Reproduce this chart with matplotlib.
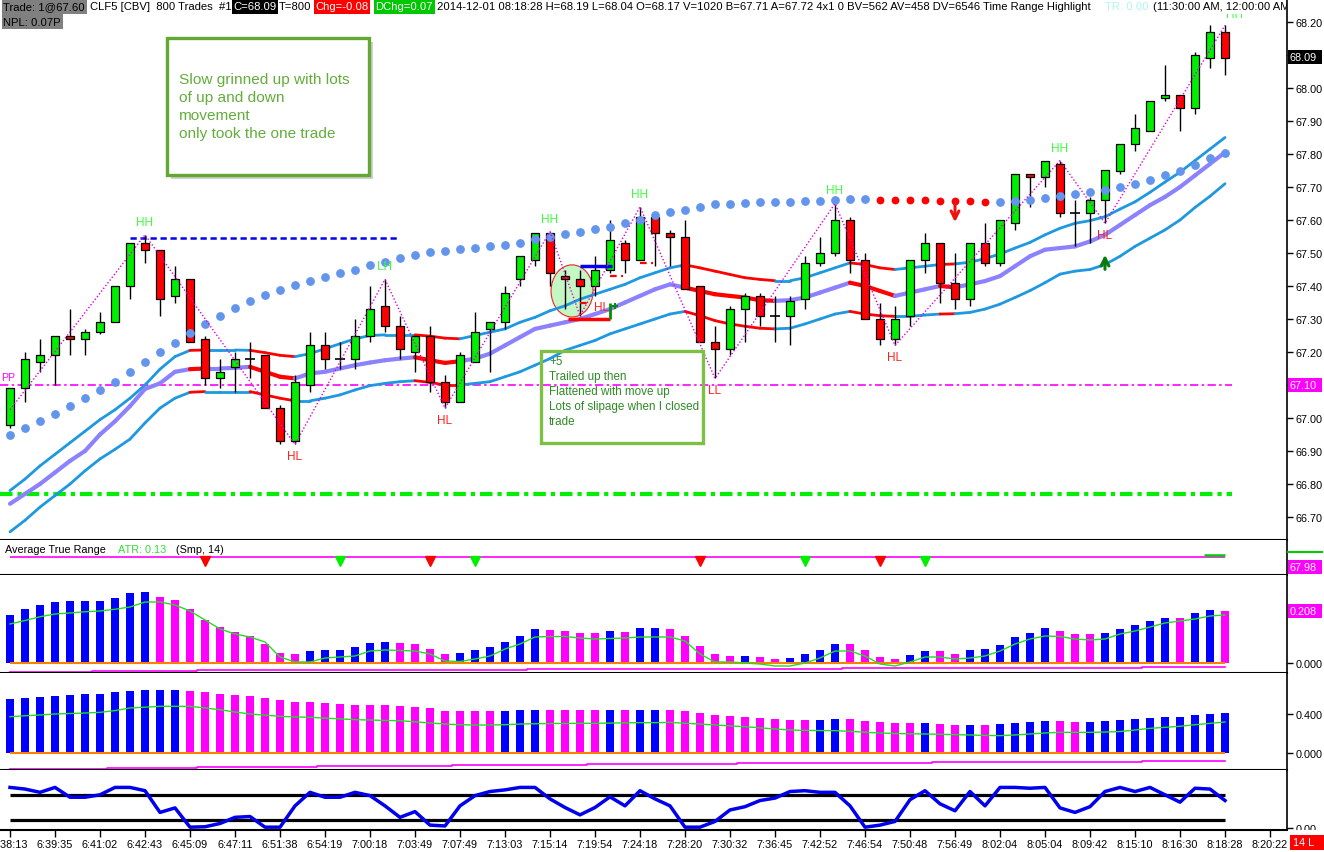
import matplotlib
matplotlib.use("Agg")
import matplotlib.pyplot as plt
from matplotlib import font_manager as fm
from matplotlib.patches import Rectangle, Ellipse
from matplotlib.collections import LineCollection
from matplotlib.transforms import Bbox, TransformedBbox

# ---------------------------------------------------------------- data
opens = [66.98, 67.09, 67.17, 67.19, 67.25, 67.24, 67.26, 67.29, 67.40, 67.53,
         67.51, 67.37, 67.42, 67.24, 67.12, 67.155, 67.18, 67.19, 67.03, 66.93,
         67.10, 67.22, 67.18, 67.18, 67.25, 67.34, 67.28, 67.20, 67.25, 67.11,
         67.05, 67.17, 67.27, 67.29, 67.42, 67.48, 67.56, 67.43, 67.42, 67.40,
         67.45, 67.53, 67.48, 67.61, 67.56, 67.55, 67.40, 67.23, 67.21, 67.33,
         67.37, 67.31, 67.31, 67.36, 67.47, 67.50, 67.60, 67.48, 67.30, 67.24,
         67.31, 67.48, 67.53, 67.41, 67.36, 67.53, 67.47, 67.59, 67.74, 67.73,
         67.77, 67.62, 67.62, 67.66, 67.75, 67.83, 67.87, 67.97, 67.98, 67.94,
         68.09, 68.17]
highs = [67.09, 67.20, 67.24, 67.25, 67.33, 67.27, 67.32, 67.40, 67.53, 67.555,
         67.51, 67.46, 67.42, 67.25, 67.18, 67.20, 67.23, 67.19, 67.04, 67.13,
         67.26, 67.26, 67.23, 67.30, 67.40, 67.42, 67.31, 67.25, 67.28, 67.13,
         67.20, 67.32, 67.29, 67.40, 67.49, 67.56, 67.565, 67.45, 67.45, 67.49,
         67.60, 67.54, 67.64, 67.62, 67.57, 67.60, 67.40, 67.28, 67.34, 67.38,
         67.38, 67.37, 67.37, 67.49, 67.55, 67.65, 67.61, 67.50, 67.35, 67.34,
         67.48, 67.56, 67.53, 67.50, 67.53, 67.59, 67.60, 67.74, 67.74, 67.78,
         67.78, 67.66, 67.67, 67.75, 67.83, 67.92, 67.96, 68.07, 67.98, 68.11,
         68.19, 68.19]
lows = [66.97, 67.05, 67.14, 67.10, 67.19, 67.19, 67.255, 67.29, 67.36, 67.47,
        67.31, 67.35, 67.23, 67.10, 67.09, 67.08, 67.12, 67.03, 66.92, 66.92,
        67.08, 67.15, 67.15, 67.15, 67.23, 67.26, 67.18, 67.14, 67.08, 67.03,
        67.05, 67.17, 67.14, 67.27, 67.40, 67.46, 67.40, 67.33, 67.31, 67.37,
        67.44, 67.44, 67.48, 67.46, 67.46, 67.39, 67.23, 67.12, 67.19, 67.23,
        67.28, 67.23, 67.22, 67.33, 67.46, 67.49, 67.44, 67.30, 67.22, 67.22,
        67.28, 67.44, 67.35, 67.33, 67.34, 67.46, 67.46, 67.57, 67.64, 67.70,
        67.61, 67.52, 67.53, 67.59, 67.74, 67.81, 67.87, 67.96, 67.87, 67.92,
        68.06, 68.04]
closes = [67.09, 67.18, 67.19, 67.25, 67.24, 67.26, 67.29, 67.40, 67.53, 67.51,
          67.36, 67.42, 67.23, 67.12, 67.14, 67.18, 67.18, 67.03, 66.93, 67.11,
          67.22, 67.18, 67.18, 67.25, 67.33, 67.28, 67.21, 67.25, 67.11, 67.05,
          67.19, 67.26, 67.29, 67.38, 67.49, 67.56, 67.44, 67.42, 67.40, 67.45,
          67.54, 67.48, 67.61, 67.56, 67.55, 67.39, 67.23, 67.21, 67.33, 67.37,
          67.31, 67.31, 67.355, 67.47, 67.50, 67.60, 67.48, 67.30, 67.24, 67.30,
          67.48, 67.53, 67.41, 67.36, 67.53, 67.47, 67.60, 67.74, 67.73, 67.78,
          67.62, 67.62, 67.66, 67.75, 67.83, 67.88, 67.96, 67.98, 67.94, 68.10,
          68.17, 68.09]

upper_band = [66.78, 66.815, 66.855, 66.89, 66.925, 66.96, 66.995, 67.025, 67.06, 67.10,
              67.148, 67.186, 67.205, 67.206, 67.206, 67.206, 67.205, 67.198, 67.19, 67.186,
              67.195, 67.21, 67.225, 67.24, 67.25, 67.252, 67.252, 67.252, 67.248, 67.242,
              67.24, 67.25, 67.26, 67.27, 67.29, 67.305, 67.325, 67.34, 67.36, 67.375,
              67.39, 67.405, 67.425, 67.44, 67.455, 67.464, 67.455, 67.445, 67.435, 67.425,
              67.42, 67.416, 67.416, 67.425, 67.44, 67.455, 67.47, 67.465, 67.455, 67.45,
              67.455, 67.46, 67.465, 67.467, 67.472, 67.483, 67.497, 67.515, 67.532, 67.555,
              67.575, 67.59, 67.598, 67.61, 67.633, 67.655, 67.684, 67.715, 67.745, 67.78,
              67.815, 67.85]
mid_band = [66.74, 66.77, 66.80, 66.835, 66.87, 66.90, 66.95, 66.99, 67.036, 67.088,
            67.105, 67.14, 67.148, 67.15, 67.15, 67.152, 67.155, 67.14, 67.125, 67.12,
            67.135, 67.14, 67.15, 67.16, 67.168, 67.175, 67.18, 67.184, 67.175, 67.167,
            67.172, 67.18, 67.195, 67.22, 67.245, 67.27, 67.28, 67.29, 67.30, 67.315,
            67.33, 67.35, 67.37, 67.39, 67.405, 67.395, 67.385, 67.375, 67.37, 67.365,
            67.357, 67.355, 67.357, 67.365, 67.38, 67.395, 67.41, 67.40, 67.385, 67.37,
            67.38, 67.39, 67.40, 67.396, 67.405, 67.415, 67.43, 67.46, 67.49, 67.51,
            67.515, 67.52, 67.535, 67.555, 67.585, 67.615, 67.645, 67.67, 67.70, 67.735,
            67.77, 67.805]
lower_band = [66.655, 66.69, 66.73, 66.765, 66.80, 66.84, 66.876, 66.905, 66.936, 66.985,
              67.03, 67.06, 67.078, 67.08, 67.08, 67.08, 67.08, 67.07, 67.06, 67.052,
              67.052, 67.06, 67.07, 67.085, 67.098, 67.105, 67.11, 67.113, 67.108, 67.10,
              67.10, 67.105, 67.11, 67.125, 67.14, 67.16, 67.18, 67.205, 67.22, 67.235,
              67.255, 67.27, 67.285, 67.30, 67.315, 67.323, 67.31, 67.295, 67.285, 67.278,
              67.272, 67.27, 67.272, 67.285, 67.30, 67.315, 67.323, 67.315, 67.31, 67.308,
              67.308, 67.312, 67.315, 67.316, 67.32, 67.33, 67.345, 67.365, 67.386, 67.41,
              67.436, 67.445, 67.45, 67.465, 67.49, 67.52, 67.545, 67.57, 67.60, 67.638,
              67.672, 67.71]
band_red_spans = [(12, 13), (16, 19), (27, 30), (45, 51), (56, 59), (62, 63)]

sar = [66.95, 66.97, 66.99, 67.012, 67.037, 67.06, 67.086, 67.11, 67.14, 67.17,
       67.20, 67.227, 67.258, 67.285, 67.31, 67.334, 67.355, 67.373, 67.389, 67.403,
       67.416, 67.428, 67.44, 67.45, 67.464, 67.474, 67.484, 67.494, 67.502, 67.507,
       67.511, 67.515, 67.52, 67.524, 67.53, 67.542, 67.55, 67.558, 67.565, 67.573,
       67.58, 67.59, 67.60, 67.615, 67.623, 67.63, 67.64, 67.648, 67.65, 67.653,
       67.655, 67.655, 67.656, 67.657, 67.658, 67.66, 67.664, 67.664, 67.66, 67.66,
       67.66, 67.66, 67.658, 67.658, 67.658, 67.655, 67.655, 67.658, 67.662, 67.667,
       67.674, 67.68, 67.686, 67.692, 67.70, 67.71, 67.72, 67.737, 67.748, 67.767,
       67.787, 67.803]
sar_red_bars = [58, 59, 60, 61, 62, 63, 64, 65]

pivot_price = 67.10
support_price = 66.77
resistance_price = 67.545
resistance_span = (8, 26)

zigzag_idx = [0, 9, 19, 25, 29, 36, 38, 42, 47, 55, 59, 70, 73, 81]
zigzag_start = 67.025

swing_idx = [9, 19, 25, 29, 36, 38, 42, 47, 55, 59, 70, 73, 81]
swing_txt = ['HH', 'HL', 'LH', 'HL', 'HH', 'HL', 'HH', 'LL', 'HH', 'HL', 'HH', 'HL', 'HH']
swing_kind = ['H', 'L', 'H', 'L', 'H', 'L', 'H', 'L', 'H', 'L', 'H', 'L', 'H']

signal_down = (63, 67.665, 67.585)
signal_up = (73, 67.442, 67.503)

trade_entry_price = 67.46
trade_stop_price = 67.30
trade_exit_top = 67.35
trade_ticks = [(38.0, 38.7, 67.35), (40.0, 40.9, 67.43), (42.0, 42.85, 67.47)]
trade_circle = (37.47, 67.385, 2.8, 0.158)

atr_mark_idx = [13, 22, 28, 31, 46, 53, 58, 61]
atr_mark_col = ['r', 'g', 'r', 'g', 'r', 'g', 'r', 'g']

hist1 = [0.192, 0.216, 0.232, 0.244, 0.248, 0.248, 0.248, 0.26, 0.28, 0.284,
         0.265, 0.252, 0.216, 0.172, 0.144, 0.124, 0.108, 0.076, 0.04, 0.036,
         0.048, 0.052, 0.052, 0.064, 0.08, 0.084, 0.08, 0.076, 0.056, 0.036,
         0.04, 0.052, 0.064, 0.084, 0.108, 0.136, 0.132, 0.128, 0.12, 0.12,
         0.128, 0.124, 0.14, 0.14, 0.136, 0.108, 0.068, 0.036, 0.028, 0.028,
         0.024, 0.016, 0.02, 0.036, 0.052, 0.076, 0.076, 0.052, 0.024, 0.016,
         0.032, 0.048, 0.048, 0.036, 0.052, 0.056, 0.072, 0.104, 0.12, 0.14,
         0.128, 0.116, 0.116, 0.12, 0.136, 0.152, 0.168, 0.18, 0.18, 0.2,
         0.214, 0.208]
hist1_col = ("bbbbbbbbbb" "mmmmmmmmmm" "bbbbbb" "mmmm" "bbbbbb" "mmmm" "bmbb"
             "mmmmm" "bmm" "bbbb" "mmmm" "bbmm" "bbbbbb" "mmm" "bbbbb" "mbbm")
hist1_ma = [0.156, 0.17, 0.185, 0.196, 0.20, 0.205, 0.208, 0.215, 0.224, 0.244,
            0.244, 0.232, 0.208, 0.172, 0.136, 0.116, 0.104, 0.084, 0.024, 0.004,
            0.004, 0.02, 0.024, 0.028, 0.048, 0.052, 0.05, 0.048, 0.036, 0.008,
            0.006, 0.016, 0.028, 0.056, 0.076, 0.104, 0.106, 0.106, 0.10, 0.096,
            0.098, 0.10, 0.104, 0.104, 0.104, 0.088, 0.036, 0.004, 0.004, 0.0,
            -0.004, -0.012, -0.012, 0.0, 0.02, 0.048, 0.048, 0.028, -0.004, -0.012,
            0.004, 0.024, 0.024, 0.016, 0.02, 0.028, 0.048, 0.076, 0.096, 0.108,
            0.106, 0.096, 0.092, 0.096, 0.116, 0.128, 0.144, 0.16, 0.168, 0.176,
            0.188, 0.192]
hist1_floor = ([-0.035] * 6 + [-0.032] * 7 + [-0.028] * 22 + [-0.024] * 21
               + [-0.020] * 20 + [-0.016] * 6)

hist2 = [0.554, 0.564, 0.574, 0.585, 0.595, 0.605, 0.605, 0.626, 0.636, 0.646,
         0.646, 0.646, 0.636, 0.626, 0.605, 0.595, 0.585, 0.564, 0.544, 0.523,
         0.523, 0.513, 0.503, 0.492, 0.492, 0.492, 0.482, 0.472, 0.462, 0.431,
         0.431, 0.431, 0.431, 0.431, 0.441, 0.441, 0.441, 0.441, 0.441, 0.441,
         0.441, 0.441, 0.441, 0.441, 0.441, 0.431, 0.41, 0.39, 0.38, 0.369,
         0.359, 0.349, 0.338, 0.338, 0.338, 0.349, 0.349, 0.328, 0.318, 0.308,
         0.308, 0.308, 0.297, 0.287, 0.287, 0.287, 0.297, 0.308, 0.318, 0.328,
         0.328, 0.318, 0.318, 0.328, 0.338, 0.349, 0.359, 0.369, 0.369, 0.39,
         0.40, 0.41]
hist2_col = ("bbbbbbbbbbbb" "mmmmmmmmmmmmmmmmmmmmm" "bbb" "mmmm" "bmbb"
             "mmmmmmmmmm" "bb" "mmmmm" "bmmbm" "bbbb" "mm" "bbbbbbbbbb")
hist2_ma = [0.372, 0.382, 0.39, 0.40, 0.405, 0.41, 0.417, 0.435, 0.462, 0.47,
            0.479, 0.479, 0.479, 0.462, 0.444, 0.42, 0.40, 0.388, 0.376, 0.37,
            0.366, 0.358, 0.35, 0.342, 0.338, 0.334, 0.331, 0.32, 0.308, 0.297,
            0.29, 0.287, 0.287, 0.29, 0.297, 0.30, 0.302, 0.303, 0.304, 0.305,
            0.307, 0.309, 0.311, 0.311, 0.314, 0.305, 0.297, 0.287, 0.278, 0.27,
            0.258, 0.246, 0.236, 0.232, 0.23, 0.229, 0.222, 0.213, 0.205, 0.2,
            0.197, 0.195, 0.192, 0.188, 0.185, 0.18, 0.178, 0.185, 0.195, 0.205,
            0.212, 0.212, 0.212, 0.215, 0.22, 0.236, 0.253, 0.263, 0.274, 0.29,
            0.304, 0.318]
hist2_floor = ([-0.164] * 7 + [-0.157] * 6 + [-0.147] * 8 + [-0.137] * 9 + [-0.127] * 9
               + [-0.116] * 10 + [-0.106] * 13 + [-0.096] * 14 + [-0.085] * 6)

osc = [99, 95, 87, 99, 75, 75, 81, 99, 99, 91,
       38, 49, 2, 3, 11, 26, 28, 2, 2, 54,
       87, 75, 75, 87, 79, 54, 26, 40, 7, 5,
       54, 79, 89, 93, 99, 99, 71, 50, 32, 50,
       76, 54, 91, 71, 54, 2, 2, 16, 44, 52,
       67, 73, 89, 91, 87, 87, 54, 2, 7, 16,
       69, 91, 59, 42, 89, 54, 99, 99, 97, 99,
       49, 38, 52, 89, 99, 89, 99, 81, 63, 97,
       95, 67]
osc_hi, osc_lo = 80, 20

time_labels = ['6:38:13', '6:39:35', '6:41:02', '6:42:43', '6:45:09', '6:47:11', '6:51:38',
               '6:54:19', '7:00:18', '7:03:49', '7:07:49', '7:13:03', '7:15:14', '7:19:54',
               '7:24:18', '7:28:20', '7:30:32', '7:36:45', '7:42:52', '7:46:54', '7:50:48',
               '7:56:49', '8:02:04', '8:05:04', '8:09:42', '8:15:10', '8:16:30', '8:18:28',
               '8:20:22']
price_ticks = [66.70, 66.80, 66.90, 67.00, 67.10, 67.20, 67.30, 67.40, 67.50,
               67.60, 67.70, 67.80, 67.90, 68.00, 68.10, 68.20]
boxed_prices = [68.09, 67.10]

# ---------------------------------------------------------------- setup
W, H = 1324, 853
names = {f.name for f in fm.fontManager.ttflist}
NF = 'Liberation Sans Narrow' if 'Liberation Sans Narrow' in names else 'Liberation Sans'
plt.rcParams['font.family'] = [NF, 'DejaVu Sans']

fig = plt.figure(figsize=(W / 100, H / 100), dpi=100)
fig.patch.set_facecolor('white')
R = fig.canvas.get_renderer()


def text_w(s, size):
    t = fig.text(0, 0, s, fontsize=size)
    w = t.get_window_extent(R).width
    t.remove()
    return w


def fit(s, width):
    return 10 * width / text_w(s, 10)


def fx(x):
    return x / W


def fy(y):
    return 1 - y / H


def frect(x0, y0, x1, y1, **kw):
    r = Rectangle((fx(x0), fy(y1)), (x1 - x0) / W, (y1 - y0) / H,
                  transform=fig.transFigure, **kw)
    fig.add_artist(r)
    return r


def ftext(x, y, s, **kw):
    kw.setdefault('va', 'center')
    kw.setdefault('zorder', 6)
    return fig.text(fx(x), fy(y), s, **kw)


n = len(closes)
idx = list(range(n))
RIGHT = 1287
X0, X1 = -10 / 15, (RIGHT - 10) / 15

TS = fit('6:39:35', 36)
HS = fit('2014-12-01 08:18:28 H=68.19 L=68.04 O=68.17 V=1020 B=67.71 A=67.72 4x1 0 BV=562 AV=458 DV=6546', 540)
LS = fit('HH', 17)


def add_ax(top, bottom):
    ax = fig.add_axes([0, 1 - bottom / H, RIGHT / W, (bottom - top) / H])
    ax.set_xlim(X0, X1)
    ax.spines['left'].set_visible(False)
    ax.spines['top'].set_visible(False)
    ax.spines['bottom'].set_linewidth(1.5)
    ax.spines['right'].set_linewidth(1.2)
    ax.tick_params(axis='x', bottom=False, labelbottom=False)
    ax.yaxis.tick_right()
    ax.tick_params(axis='y', right=True, left=False, length=4, width=1,
                   labelsize=TS, pad=2)
    return ax


ax = add_ax(0, 541)
ax_atr = add_ax(541, 576)
ax_h1 = add_ax(576, 674)
ax_h2 = add_ax(674, 771)
ax_osc = add_ax(771, 831)

# ---------------------------------------------------------------- main panel
ax.set_ylim(67.10 - 155 / 330, 67.10 + 386 / 330)
ax.set_yticks(price_ticks)
ax.set_yticklabels(['' if any(abs(v - b) < 0.015 for b in boxed_prices) else f'{v:.2f}'
                    for v in price_ticks])

ax.hlines(pivot_price, X0, n - 0.5, colors='#ff00ff', linestyles=(0, (5, 2, 1.5, 2)), lw=1.2, zorder=1)
ax.hlines(support_price, X0, n - 0.5, colors='#00ee00', linestyles=(0, (3, 1.2, 1, 1.2)), lw=3, zorder=1)
ax.hlines(resistance_price, resistance_span[0], resistance_span[1], colors='#0000ee',
          linestyles=(0, (2.5, 1.5)), lw=1.8, zorder=1)

cx, cy, cw, ch = trade_circle
ax.add_patch(Ellipse((cx, cy), cw, ch, facecolor='#c4f7c4', edgecolor='#ee2222', lw=0.8, zorder=1.2))


def band(vals, color, lw):
    segs, cols = [], []
    for k in range(n - 1):
        red = any(a <= k < b for a, b in band_red_spans)
        segs.append([(k, vals[k]), (k + 1, vals[k + 1])])
        cols.append('#ff0000' if red else color)
    ax.add_collection(LineCollection(segs, colors=cols, linewidths=lw, zorder=1.5,
                                     capstyle='round'))


band(upper_band, '#1e98e0', 2.0)
band(lower_band, '#1e98e0', 2.0)
band(mid_band, '#8c82ff', 3.0)

BW = 0.56
for i in idx:
    o, h, l, c = opens[i], highs[i], lows[i], closes[i]
    ax.vlines(i, l, h, colors='black', lw=1, zorder=2)
    if abs(c - o) < 0.003:
        ax.hlines(o, i - 0.32, i + 0.32, colors='black', lw=1.2, zorder=2.2)
    else:
        col = '#00ee00' if c > o else '#ff0000'
        ax.add_patch(Rectangle((i - BW / 2, min(o, c)), BW, abs(c - o), facecolor=col,
                               edgecolor='black', lw=0.9, zorder=2.1))

blue_i = [i for i in idx if i not in sar_red_bars]
ax.plot(blue_i, [sar[i] for i in blue_i], 'o', color='#6495ed', ms=5.3, mec='#6495ed', zorder=3)
ax.plot(sar_red_bars, [sar[i] for i in sar_red_bars], 'o', color='#ff0000', ms=4.6, zorder=3)

zz_y = [zigzag_start] + [highs[k] if j % 2 == 1 else lows[k] for j, k in enumerate(zigzag_idx) if j > 0]
ax.plot(zigzag_idx, zz_y, color='#e000e0', lw=1, ls=(0, (1, 1.5)), zorder=3.5)

# trade markers
ax.hlines(trade_entry_price, 38.0, 40.1, colors='#0000ee', lw=2.5, zorder=3.2)
ax.hlines(trade_stop_price, 37.2, 40.0, colors='#ff0000', lw=2.5, zorder=3.2)
ax.vlines(40.0, trade_stop_price, trade_exit_top, colors='#0a8a0a', lw=2, zorder=3.2)
ax.plot([40.35], [trade_exit_top - 0.01], marker='+', color='#0a8a0a', ms=5, mew=1.5, zorder=3.3)
for a, b, p in trade_ticks:
    ax.hlines(p, a, b, colors='#ff0000', lw=1.6, linestyles=(0, (3, 2)), zorder=3.2)

for k, s, kind in zip(swing_idx, swing_txt, swing_kind):
    if kind == 'H':
        col = '#3cff3c'
        xy, off = (k, highs[k]), (0, 13)
    else:
        col = '#ff1f1f'
        xy, off = (k, lows[k]), (0, -12)
    if k == 38:
        off = (22, 9)
    if k == n - 1:
        off = (10, 11)
    ax.annotate(s, xy=xy, xytext=off, textcoords='offset pixels', ha='center', va='center',
                color=col, fontsize=LS, zorder=4)

for (k, p0, p1), col in ((signal_down, '#ee1111'), (signal_up, '#0a7a0a')):
    ax.annotate('', xy=(k, p1), xytext=(k, p0),
                arrowprops=dict(arrowstyle='->', color=col, lw=2.2, mutation_scale=14), zorder=4)

ax.annotate('PP', xy=(X0, pivot_price), xytext=(1, 3), textcoords='offset pixels',
            ha='left', va='bottom', color='#ff00ff', fontsize=fit('PP', 14))

# ---------------------------------------------------------------- ATR strip
ax_atr.set_ylim(0, 1)
ax_atr.set_yticks([])
atr_level = 0.514
ax_atr.hlines(atr_level, 0, n - 1, colors='#ff00ff', lw=1.2)
for k, c in zip(atr_mark_idx, atr_mark_col):
    ax_atr.plot([k], [atr_level - 0.1], marker='v', ms=6.5,
                color='#ff0000' if c == 'r' else '#00ee00', zorder=3)
ax_atr.hlines(atr_level + 0.05, n - 2.4, n - 1, colors='#00cc00', lw=1.8)

# ---------------------------------------------------------------- histograms
cmap = {'b': '#0000ff', 'm': '#ff00ff'}
for a, vals, cols, ma, floor, ylim, ticks in (
        (ax_h1, hist1, hist1_col, hist1_ma, hist1_floor, (-0.04, 0.352), [0.0]),
        (ax_h2, hist2, hist2_col, hist2_ma, hist2_floor, (-0.1744, 0.8205), [0.0, 0.4])):
    a.set_ylim(*ylim)
    a.bar(idx, vals, width=BW, color=[cmap[c] for c in cols], zorder=2)
    a.plot(idx, ma, color='#22dd22', lw=1, zorder=3)
    a.hlines(0, 0, n - 1, colors='#ff8000', lw=1.5, zorder=2.5)
    a.step(idx, floor, where='mid', color='#ff00ff', lw=1.2)
    a.set_yticks(ticks)
    a.set_yticklabels([f'{t:.3f}' for t in ticks])

# ---------------------------------------------------------------- oscillator
ax_osc.set_ylim(-4.9, 141.5)
ax_osc.plot(idx, osc, color='#0000ee', lw=2.5, zorder=3)
ax_osc.hlines([osc_hi, osc_lo], 0, n - 1, colors='black', lw=2.3, zorder=2)
ax_osc.set_yticks([0])
ax_osc.set_yticklabels(['0.00'])
tick_pos = list(range(0, 3 * len(time_labels), 3))
ax_osc.set_xticks(tick_pos)
ax_osc.set_xticklabels(time_labels)
ax_osc.tick_params(axis='x', bottom=True, labelbottom=True, length=5, width=1,
                   labelsize=TS, pad=1.5)

# ---------------------------------------------------------------- figure overlays
frect(0, 0, RIGHT - 1, 15, facecolor='white', edgecolor='none', zorder=2)

clip_hdr = TransformedBbox(Bbox([[0, 0], [RIGHT / W, 1]]), fig.transFigure)


def header_piece(x, s, fg='black', bg=None, y=7.5):
    w = text_w(s, HS)
    if bg is not None:
        frect(x - 1, y - 7.5, x + w + 2, y + 7, facecolor=bg, edgecolor='none', zorder=3)
    t = ftext(x, y, s, fontsize=HS, color=fg)
    t.set_clip_box(clip_hdr)
    t.set_clip_on(True)
    return x + w


header_piece(3, 'Trade: 1@67.60', bg='#808080')
header_piece(90, 'CLF5 [CBV]  800 Trades  #1')
header_piece(233, 'C=68.09', fg='white', bg='black')
header_piece(279, 'T=800')
header_piece(315, 'Chg=-0.08', fg='white', bg='#ff0000')
header_piece(375, 'DChg=0.07', fg='white', bg='#00c800')
header_piece(437, '2014-12-01 08:18:28 H=68.19 L=68.04 O=68.17 V=1020 B=67.71 A=67.72 4x1 0 BV=562 AV=458 DV=6546')
header_piece(983, 'Time Range Highlight')
header_piece(1105, 'TR: 0.00', fg='#b4f2f2')
header_piece(1153, '(11:30:00 AM, 12:00:00 AM')
header_piece(3, 'NPL: 0.07P', bg='#808080', y=22.5)

# note box 1
frect(171, 43, 373, 180, facecolor='#d0d0d0', edgecolor='none', zorder=2)
frect(167, 39, 369, 176, facecolor='white', edgecolor='#62a832', lw=2.4, zorder=3)
n1 = ['Slow grinned up with lots', 'of up and down', 'movement', 'only took the one trade']
s1 = fit(n1[0], 170)
for j, line in enumerate(n1):
    ftext(179, 80 + 18 * j, line, fontsize=s1, color='#62ad3c')

# note box 2
frect(541, 352, 703, 444, facecolor='none', edgecolor='#7cc142', lw=2.4, zorder=3)
n2 = ['+5', 'Trailed up then', 'Flattened with move up', 'Lots of slipage when I closed', 'trade']
s2 = fit(n2[3], 150)
for j, line in enumerate(n2):
    ftext(549, 362 + 15 * j, line, fontsize=s2, color='#2f8a25')

# ATR caption
ftext(5, 550, 'Average True Range', fontsize=TS, color='black')
ftext(118, 550, 'ATR: 0.13', fontsize=TS, color='#33dd33')
ftext(176, 550, '(Smp, 14)', fontsize=TS, color='black')

# right-side value boxes
for (y, s, bg) in ((58, '68.09', 'black'), (386, '67.10', '#ff00ff'),
                   (568, '67.98', '#ff00ff'), (612, '0.208', '#ff00ff')):
    frect(1288, y - 7, 1322, y + 7, facecolor=bg, edgecolor='none', zorder=5)
    ftext(1290, y, s, fontsize=TS, color='white', zorder=7)
fig.add_artist(plt.Line2D([fx(1288), fx(1322)], [fy(553), fy(553)], color='#00cc00', lw=1.5,
                          transform=fig.transFigure, zorder=5))

frect(RIGHT + 1, 831, W, H, facecolor='white', edgecolor='none', zorder=4)
frect(1290, 836, W, 851, facecolor='#ff0000', edgecolor='none', zorder=5)
ftext(1293, 843.5, '14 L', fontsize=TS, color='white', zorder=7)

fig.savefig('out.png', dpi=100, facecolor='white')
